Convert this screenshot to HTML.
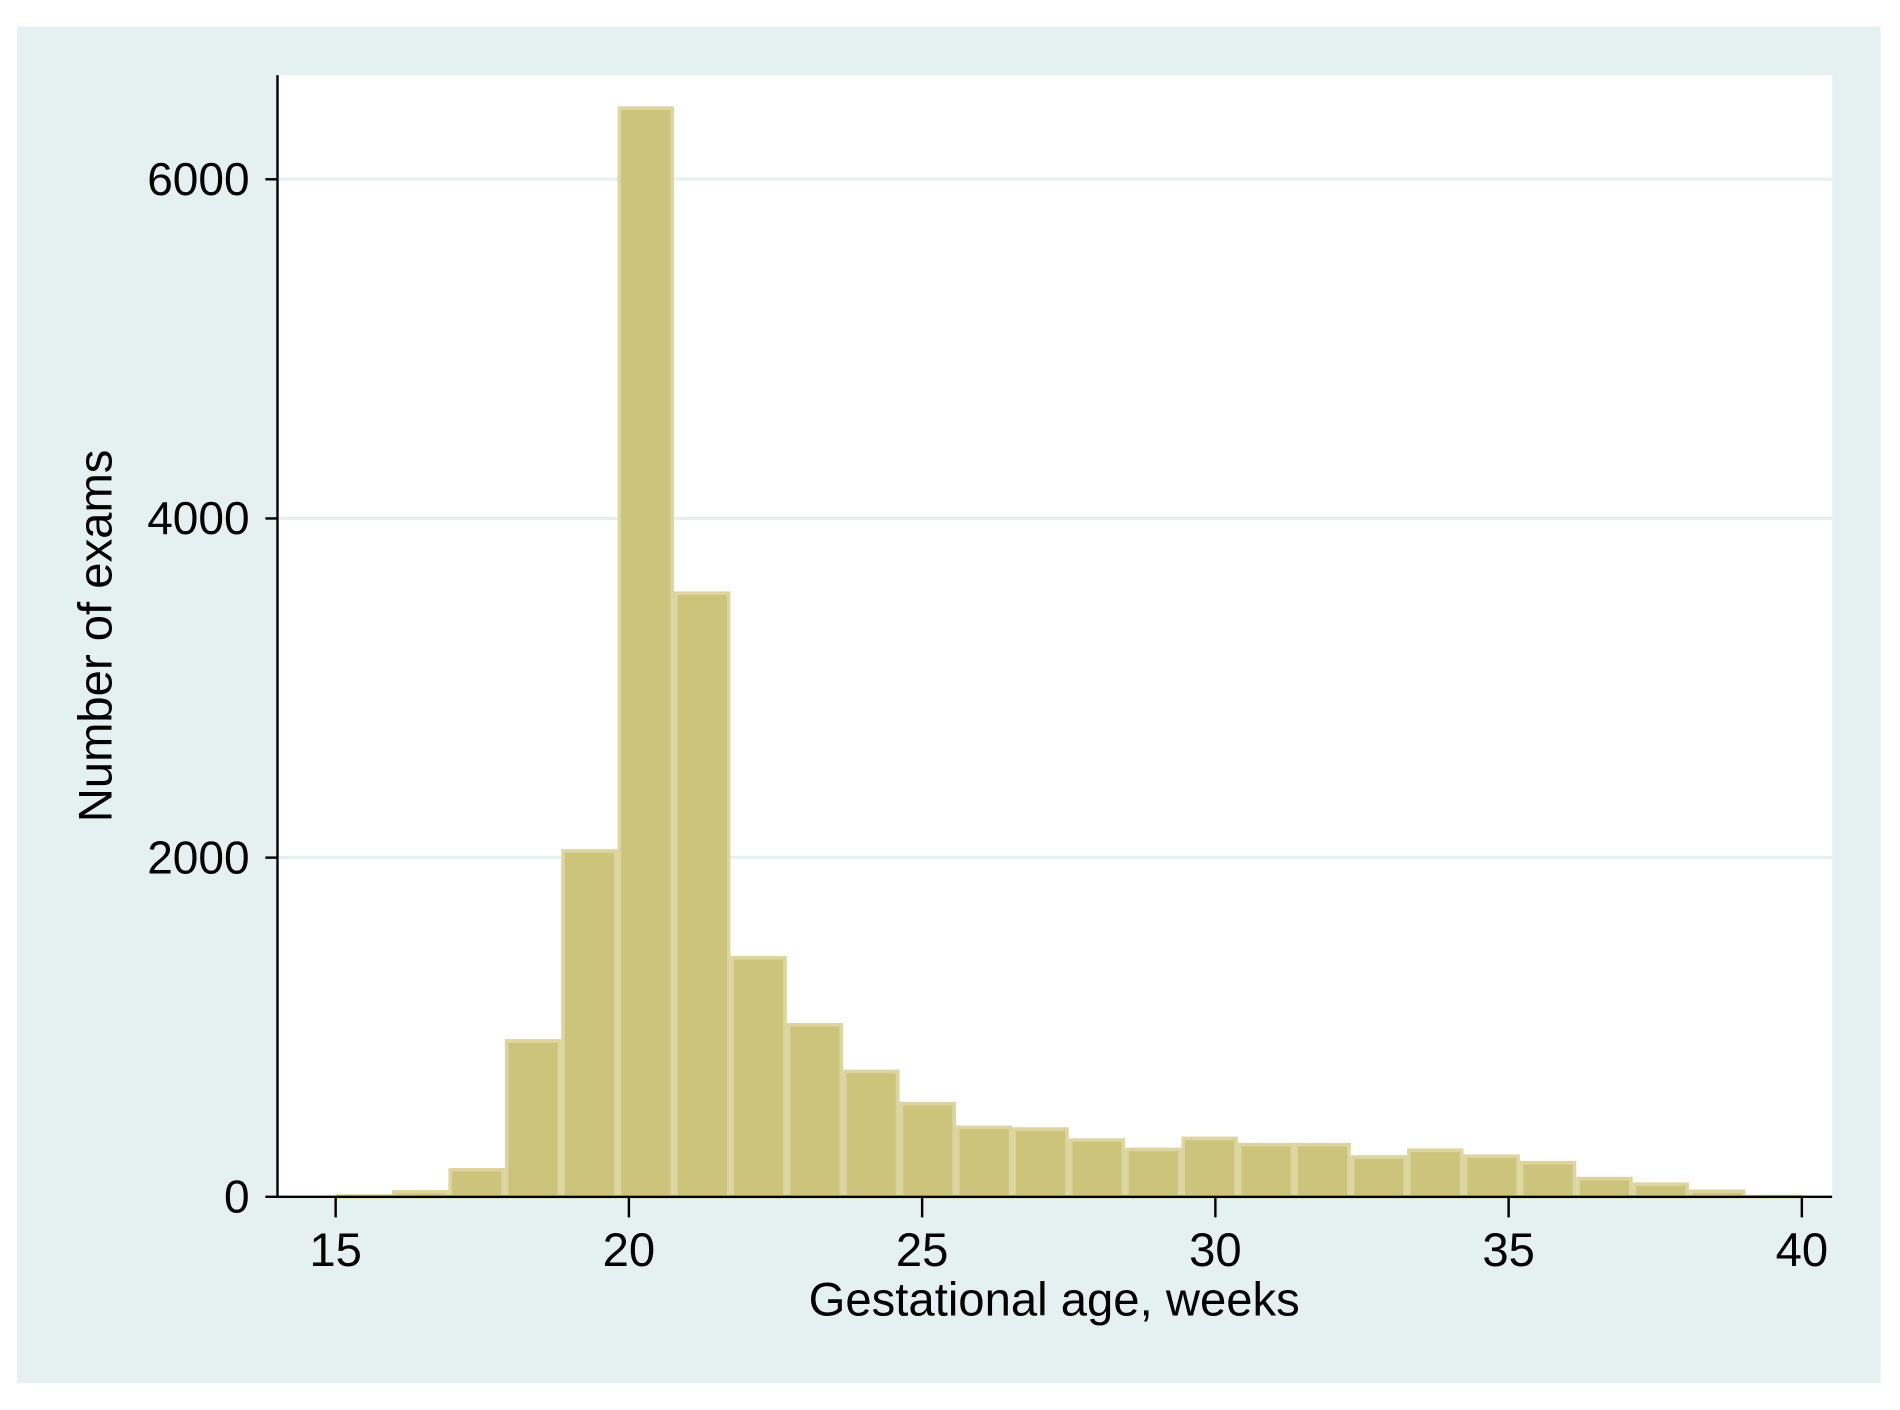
<!DOCTYPE html>
<html><head><meta charset="utf-8"><style>
html,body{margin:0;padding:0;background:#fff}
svg{display:block}
text{font-family:"Liberation Sans",Arial,sans-serif;fill:#000}
</style></head><body>
<svg id="chart" width="1900" height="1410" viewBox="0 0 1568 1164" preserveAspectRatio="none" xmlns="http://www.w3.org/2000/svg">
<rect x="14" y="22" width="1538" height="1120" fill="#e5f0f0"/>
<rect x="229" y="62" width="1283" height="926" fill="#ffffff"/>
<g id="grid"></g>
<g id="bars"></g>
<g id="axes"></g>
<text x="870" y="1086" font-size="39" text-anchor="middle">Gestational age, weeks</text>
<text transform="translate(92,525) rotate(-90)" font-size="39" text-anchor="middle">Number of exams</text>
</svg>
<script>
const counts = [15, 40, 170, 930, 2050, 6430, 3570, 1420, 1025, 750, 560, 420, 410, 345, 290, 355, 318, 318, 245, 285, 250, 212, 118, 85, 43, 12];
const binStart = 15;
const binEnd = 40;
const xTicks = [15, 20, 25, 30, 35, 40];
const yTicks = [0, 2000, 4000, 6000];

const NS = "http://www.w3.org/2000/svg";
const x = v => 277 + (v - 15) * (1487 - 277) / 25;
const y = v => 988 - v * 0.14;
function mk(tag, attrs, parent) {
  const e = document.createElementNS(NS, tag);
  for (const k in attrs) e.setAttribute(k, attrs[k]);
  parent.appendChild(e);
  return e;
}
const grid = document.getElementById('grid'), bars = document.getElementById('bars'), axes = document.getElementById('axes');
yTicks.forEach(t => {
  if (t === 0) return;
  const l = mk('line', {x1: 229, x2: 1512, y1: y(t), y2: y(t), stroke: '#e5f0f0', 'stroke-width': 2.5}, grid);
  
  
});
const bw = (binEnd - binStart) / counts.length;
counts.forEach((c, i) => {
  const x0 = x(binStart + i * bw), x1 = x(binStart + (i + 1) * bw);
  const r = mk('rect', {x: x0 + 1.5, y: y(c) + 1.5, width: x1 - x0 - 3, height: Math.max(0, y(0) - y(c) - 1.5), fill: '#cdc47c', stroke: '#dcd59f', 'stroke-width': 3}, bars);
  
  
});
let a = mk('line', {x1: 229, x2: 229, y1: 62, y2: 989, stroke: '#000', 'stroke-width': 2}, axes);


a = mk('line', {x1: 228, x2: 1512, y1: 988, y2: 988, stroke: '#000', 'stroke-width': 2}, axes);


yTicks.forEach(t => {
  const l = mk('line', {x1: 219, x2: 229, y1: y(t), y2: y(t), stroke: '#000', 'stroke-width': 2}, axes);
  
  
  const tx = mk('text', {x: 206, y: y(t) + 13, 'font-size': 38, 'text-anchor': 'end'}, axes);
  tx.textContent = t;
  
  
});
xTicks.forEach(t => {
  const l = mk('line', {x1: x(t), x2: x(t), y1: 988, y2: 1005, stroke: '#000', 'stroke-width': 2}, axes);
  
  
  const tx = mk('text', {x: x(t), y: 1045, 'font-size': 39, 'text-anchor': 'middle'}, axes);
  tx.textContent = t;
  
  
});
</script>
</body></html>
